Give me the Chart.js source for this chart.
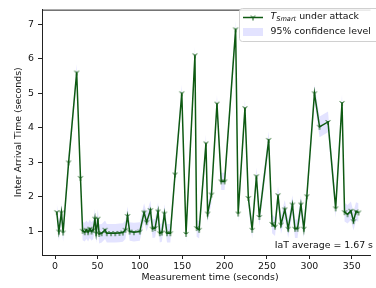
<!DOCTYPE html>
<html>
<head>
<meta charset="utf-8">
<script src="https://cdn.jsdelivr.net/npm/chart.js@4.4.1/dist/chart.umd.min.js"></script>
<style>
  html, body { margin: 0; padding: 0; background: #fff; }
  #wrap { width: 376px; height: 288px; position: relative; }
</style>
</head>
<body>
<div id="wrap"><canvas id="iat-chart"></canvas></div>
<script>
const times = [2, 4.5, 7.5, 9.5, 16, 25.5, 30, 32.5, 35, 37, 39, 41, 43, 45, 47, 48.5, 50.5, 52, 55, 59, 61, 66, 71, 76, 80, 83, 85.5, 88, 93, 100,
    105, 108, 112.5, 115, 118, 121.5, 123.5, 126, 129, 132, 136, 141.5, 149.5, 154.5, 165, 167, 170, 178, 180, 184.5, 191, 196, 200,
    213, 216, 224, 228, 232.5, 237.5, 241, 252, 256, 259.5, 263, 266.5, 271, 275, 280, 283, 286, 290, 293.5, 297, 306, 312, 322,
    331, 338.5, 341.5, 345, 349, 352, 355, 358];
const iat = [1.56, 1.0, 1.55, 0.97, 3.0, 5.6, 2.55, 1.02, 0.98, 1.05, 0.98, 1.08, 1.0, 1.05, 1.37, 0.95, 1.37, 0.93, 0.95, 1.05, 0.95, 0.95, 0.95, 0.96, 0.97, 1.05, 1.45, 1.0, 0.98, 1.0,
    1.55, 1.27, 1.62, 1.08, 1.1, 1.58, 0.95, 0.97, 1.52, 0.95, 0.95, 2.65, 5.0, 0.93, 6.1, 1.1, 1.05, 3.55, 1.52, 2.07, 4.7, 2.45, 2.45,
    6.85, 1.52, 4.57, 1.97, 1.05, 2.6, 1.42, 3.65, 1.22, 1.14, 2.05, 1.2, 1.64, 1.08, 1.78, 1.08, 1.08, 1.78, 1.08, 2.02, 5.0, 4.03, 4.17,
    1.67, 4.72, 1.56, 1.5, 1.6, 1.3, 1.58, 1.55];
// half width of the 95% band at each point
const ciHalf = [0.27, 0.27, 0.27, 0.27, 0.25, 0.25, 0.25, 0.27, 0.27, 0.27, 0.27, 0.27, 0.27, 0.27, 0.28, 0.28, 0.28, 0.28, 0.27, 0.27, 0.27, 0.27, 0.27, 0.27, 0.27, 0.27, 0.27, 0.27, 0.27, 0.27,
    0.27, 0.27, 0.27, 0.27, 0.27, 0.27, 0.27, 0.27, 0.27, 0.27, 0.27, 0.25, 0.25, 0.25, 0.25, 0.25, 0.25, 0.25, 0.25, 0.25, 0.25, 0.25, 0.25,
    0.25, 0.25, 0.25, 0.25, 0.25, 0.25, 0.27, 0.25, 0.27, 0.27, 0.27, 0.27, 0.27, 0.27, 0.27, 0.27, 0.27, 0.27, 0.27, 0.27, 0.25, 0.3, 0.3,
    0.27, 0.25, 0.27, 0.27, 0.27, 0.27, 0.27, 0.27];
const xTicks = [0, 50, 100, 150, 200, 250, 300, 350];
const yTicks = [1, 2, 3, 4, 5, 6, 7];
const averageText = 'IaT average = 1.67 s';

const lineColor = '#0e5a12';
const bandColor = 'rgba(0, 0, 255, 0.11)';
const fontFam = '"DejaVu Sans", sans-serif';
const fs = 9.4;

// matplotlib style "tri_down" marker
function triDown(r, color) {
    const c = document.createElement('canvas');
    const s = Math.ceil(r) * 2 + 2;
    c.width = c.height = s;
    const g = c.getContext('2d');
    const m = s / 2;
    g.strokeStyle = color;
    g.lineWidth = 1;
    g.beginPath();
    g.moveTo(m, m); g.lineTo(m, m + r);
    g.moveTo(m, m); g.lineTo(m + 0.8 * r, m - 0.5 * r);
    g.moveTo(m, m); g.lineTo(m - 0.8 * r, m - 0.5 * r);
    g.stroke();
    return c;
}
const marker = triDown(3, lineColor);

const mainPts = times.map((t, i) => ({ x: t, y: iat[i] }));
const lowPts = times.map((t, i) => ({ x: t, y: iat[i] - ciHalf[i] }));
const highPts = times.map((t, i) => ({ x: t, y: iat[i] + ciHalf[i] }));

// extra drawing: top spine, legend, axis titles, average note
const extras = {
    id: 'extras',
    afterDraw(chart) {
        const ctx = chart.ctx;
        const a = chart.chartArea;
        ctx.save();
        ctx.strokeStyle = '#222';
        ctx.lineWidth = 1;
        ctx.beginPath();
        ctx.moveTo(a.left, a.top + 0.5);
        ctx.lineTo(a.right, a.top + 0.5);
        ctx.stroke();

        // legend box
        const lx = 239.5, ly = 8.5, lw = 140, lh = 33;
        ctx.fillStyle = 'rgba(255,255,255,0.85)';
        ctx.strokeStyle = '#d0d0d0';
        ctx.beginPath();
        ctx.roundRect(lx, ly, lw, lh, 3);
        ctx.fill();
        ctx.stroke();

        ctx.strokeStyle = lineColor;
        ctx.lineWidth = 1.5;
        ctx.beginPath();
        ctx.moveTo(243, 17.5);
        ctx.lineTo(263, 17.5);
        ctx.stroke();
        ctx.drawImage(marker, 253 - marker.width / 2, 17.5 - marker.height / 2);

        ctx.fillStyle = bandColor;
        ctx.fillRect(243, 28, 20, 8);

        ctx.fillStyle = '#111';
        ctx.textBaseline = 'middle';
        ctx.textAlign = 'left';
        let x = 270.5;
        ctx.font = 'italic ' + fs + 'px ' + fontFam;
        ctx.fillText('T', x, 17);
        x += ctx.measureText('T').width;
        ctx.font = 'italic 6.6px ' + fontFam;
        ctx.fillText('Smart', x, 19.5);
        x += ctx.measureText('Smart').width;
        ctx.font = fs + 'px ' + fontFam;
        ctx.fillText(' under attack', x, 17);
        ctx.fillText('95% confidence level', 270.5, 32);

        // average note
        ctx.textAlign = 'right';
        ctx.fillText(averageText, 373, 246);

        // axis titles
        ctx.textAlign = 'center';
        ctx.fillText('Measurement time (seconds)', 210, 278);
        ctx.translate(19, (a.top + a.bottom) / 2);
        ctx.rotate(-Math.PI / 2);
        ctx.fillText('Inter Arrival Time (seconds)', 0, 0);
        ctx.restore();
    }
};

new Chart(document.getElementById('iat-chart'), {
    type: 'line',
    data: {
        datasets: [
            {
                label: 'TSmart under attack',
                data: mainPts,
                borderColor: lineColor,
                borderWidth: 1.5,
                pointStyle: marker,
                pointRadius: 3,
                fill: false,
                tension: 0,
                order: 0
            },
            {
                label: 'low',
                data: lowPts,
                borderWidth: 0,
                borderColor: 'rgba(0,0,0,0)',
                pointRadius: 0,
                fill: false,
                order: 1
            },
            {
                label: '95% confidence level',
                data: highPts,
                borderWidth: 0,
                borderColor: 'rgba(0,0,0,0)',
                backgroundColor: bandColor,
                pointRadius: 0,
                fill: 1,
                order: 2
            }
        ]
    },
    options: {
        responsive: true,
        maintainAspectRatio: false,
        animation: false,
        layout: { padding: { top: 4, right: 0, left: 0, bottom: 0 } },
        plugins: {
            legend: { display: false },
            tooltip: { enabled: false }
        },
        scales: {
            x: {
                type: 'linear',
                min: -15.4,
                max: 372.1,
                afterFit: s => { s.height = 33; },
                afterBuildTicks: s => { s.ticks = xTicks.map(v => ({ value: v })); },
                grid: { drawOnChartArea: false, drawTicks: true, tickLength: 4, color: '#222' },
                border: { display: true, color: '#222', width: 1 },
                ticks: { color: '#111', font: { family: fontFam, size: fs }, padding: 2, maxRotation: 0 }
            },
            y: {
                type: 'linear',
                min: 0.32,
                max: 7.42,
                afterFit: s => { s.width = 42; },
                afterBuildTicks: s => { s.ticks = yTicks.map(v => ({ value: v })); },
                grid: { drawOnChartArea: false, drawTicks: true, tickLength: 4, color: '#222' },
                border: { display: true, color: '#222', width: 1 },
                ticks: { color: '#111', font: { family: fontFam, size: fs }, padding: 4 }
            }
        }
    },
    plugins: [extras]
});
</script>
</body>
</html>
